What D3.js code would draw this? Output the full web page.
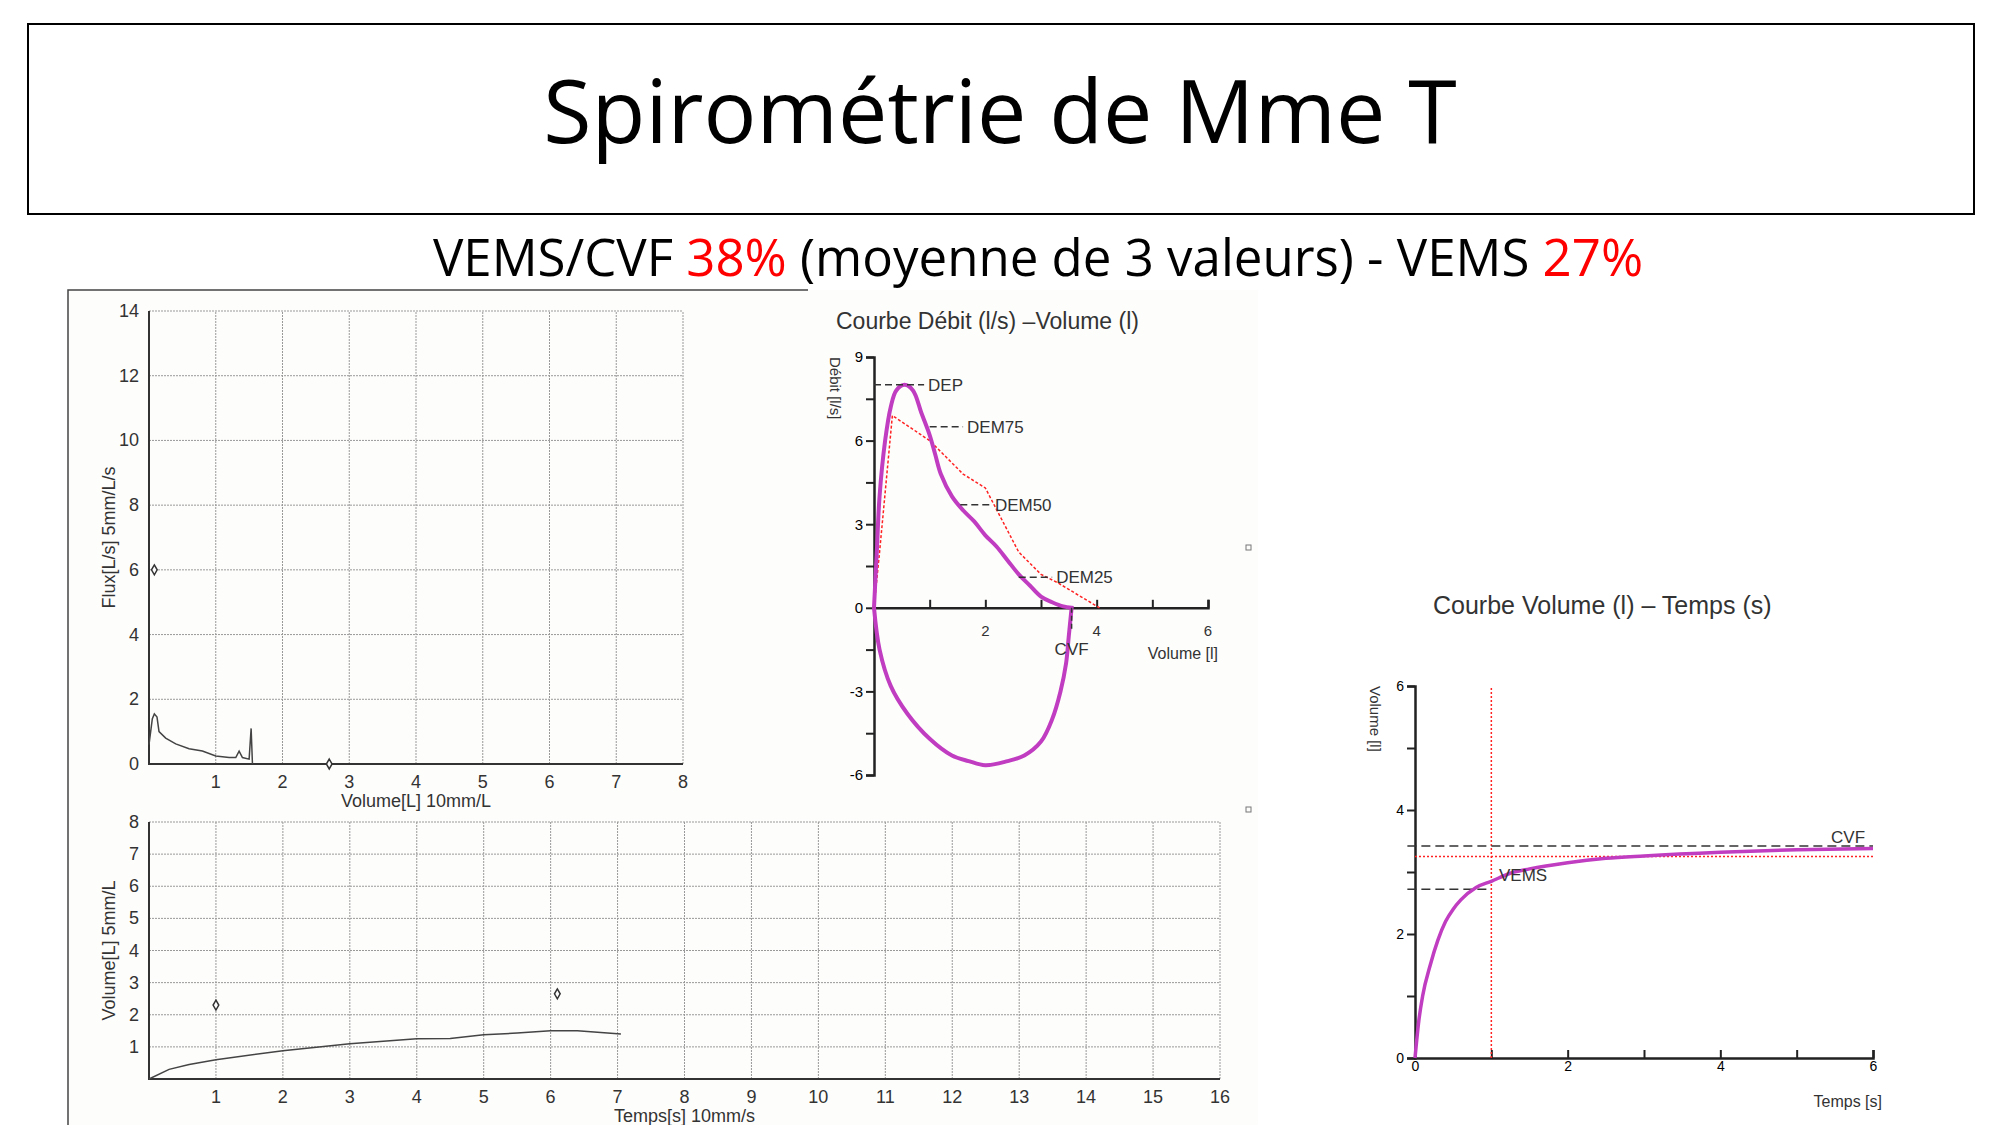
<!DOCTYPE html>
<html><head><meta charset="utf-8">
<script src="https://cdn.jsdelivr.net/npm/d3@7"></script>
<style>body{margin:0;background:#fff}svg{display:block}</style>
</head><body>
<script>
// scanned flow-volume trace (L, L/s)
const scanFlow = [[0,0.6],[0.05,1.4],[0.08,1.55],[0.12,1.45],[0.15,1.0],[0.25,0.8],[0.4,0.62],[0.6,0.47],[0.8,0.4],[1.0,0.25],[1.2,0.2],[1.3,0.2],[1.35,0.4],[1.4,0.2],[1.5,0.15],[1.53,1.1],[1.55,0]]
const scanFlowMarks = [[0.08,6],[2.7,0]]
// scanned volume-time trace (s, L)
const scanVol = [[0,0],[0.3,0.3],[0.6,0.45],[1,0.6],[2,0.88],[3,1.1],[4,1.25],[4.5,1.26],[5,1.38],[5.5,1.43],[6,1.5],[6.4,1.5],[7.05,1.4]]
const scanVolMarks = [[1,2.3],[6.1,2.65]]
// reference flow-volume loop (l, l/s)
const loopExp = [[0,0],[0.05,2],[0.1,4],[0.2,6],[0.3,7.2],[0.4,7.8],[0.55,8.0],[0.7,7.8],[0.85,7],[1,6.2],[1.1,5.5],[1.2,4.8],[1.4,4.0],[1.6,3.5],[1.8,3.1],[2.0,2.6],[2.2,2.2],[2.4,1.7],[2.6,1.2],[2.8,0.8],[3.0,0.4],[3.2,0.2],[3.4,0.05],[3.55,0]]
const loopInsp = [[3.55,0],[3.5,-1],[3.45,-2],[3.35,-3],[3.2,-4],[3.0,-4.8],[2.7,-5.3],[2.4,-5.5],[2.0,-5.65],[1.7,-5.5],[1.4,-5.3],[1.0,-4.7],[0.6,-3.8],[0.3,-2.8],[0.1,-1.5],[0,0]]
const loopPred = [[0,0],[0.1,2],[0.33,6.9],[1,6],[1.6,4.8],[2,4.3],[2.6,2],[3.0,1.2],[3.3,0.9],[4.05,0]]
const loopMarks = [{n:'DEP',x0:0,x1:0.9,y:8},{n:'DEM75',x0:1.0,x1:1.6,y:6.5},{n:'DEM50',x0:1.55,x1:2.1,y:3.7},{n:'DEM25',x0:2.6,x1:3.2,y:1.1}]
// reference volume-time curve (s, l)
const volTime = [[0,0],[0.05,0.6],[0.1,1.0],[0.2,1.5],[0.3,1.9],[0.4,2.2],[0.5,2.4],[0.6,2.55],[0.8,2.75],[1.0,2.85],[1.25,2.98],[1.5,3.05],[2,3.15],[2.5,3.22],[3,3.26],[4,3.32],[5,3.36],[6,3.38]]
const CVF = 3.42, VEMS = 2.72, predLine = 3.25

const svg = d3.select('body').append('svg').attr('width',2000).attr('height',1125)
const sans = 'Liberation Sans, Arial, sans-serif'

// title box
svg.append('rect').attr('x',28).attr('y',24).attr('width',1946).attr('height',190)
  .attr('fill','none').attr('stroke','#000').attr('stroke-width',2)
svg.append('text').attr('x',1000).attr('y',143).attr('text-anchor','middle')
  .attr('font-family','Open Sans, sans-serif').attr('font-size',88).text('Spirométrie de Mme T')
const sub = svg.append('text').attr('x',1038).attr('y',276).attr('text-anchor','middle')
  .attr('font-family','Open Sans, sans-serif').attr('font-size',51)
sub.append('tspan').text('VEMS/CVF ')
sub.append('tspan').attr('fill','#f00').text('38%')
sub.append('tspan').text(' (moyenne de 3 valeurs) - VEMS ')
sub.append('tspan').attr('fill','#f00').text('27%')

// scanned panel
svg.append('rect').attr('x',68).attr('y',290).attr('width',1190).attr('height',835).attr('fill','#fdfdfc')
svg.append('path').attr('d','M68,1125V290H808').attr('fill','none').attr('stroke','#444').attr('stroke-width',1.5)
svg.selectAll('rect.art').data([[1246,545],[1246,807]]).enter().append('rect')
  .attr('x',d=>d[0]).attr('y',d=>d[1]).attr('width',5).attr('height',5).attr('fill','none').attr('stroke','#777')

function gridPlot(xd,yd,xr,yr,xt,yt,xlab,ylab,line,marks){
  const x = d3.scaleLinear().domain(xd).range(xr), y = d3.scaleLinear().domain(yd).range(yr)
  const g = svg.append('g')
  g.selectAll('line.v').data(d3.range(xd[0],xd[1]+1)).enter().append('line')
    .attr('x1',x).attr('x2',x).attr('y1',yr[0]).attr('y2',yr[1]).attr('stroke','#999').attr('stroke-dasharray','2,1')
  g.selectAll('line.h').data(d3.range(yd[0],yd[1]+1,yt)).enter().append('line')
    .attr('y1',y).attr('y2',y).attr('x1',xr[0]).attr('x2',xr[1]).attr('stroke','#999').attr('stroke-dasharray','2,1')
  g.append('path').attr('d',`M${xr[0]},${yr[1]}V${yr[0]}H${xr[1]}`).attr('fill','none').attr('stroke','#333').attr('stroke-width',2)
  g.selectAll('text.x').data(d3.range(1,xd[1]+1)).enter().append('text')
    .attr('x',x).attr('y',yr[0]+24).attr('text-anchor','middle').attr('font-family',sans).attr('font-size',18).attr('fill','#333').text(d=>d)
  g.selectAll('text.y').data(d3.range(yd[0],yd[1]+1,yt).filter(d=>xt||d>0)).enter().append('text')
    .attr('x',xr[0]-10).attr('y',d=>y(d)+6).attr('text-anchor','end').attr('font-family',sans).attr('font-size',18).attr('fill','#333').text(d=>d)
  g.append('text').attr('x',(xr[0]+xr[1])/2).attr('y',yr[0]+43).attr('text-anchor','middle')
    .attr('font-family',sans).attr('font-size',18).attr('fill','#333').text(xlab)
  g.append('text').attr('transform',`translate(${xr[0]-34},${(yr[0]+yr[1])/2}) rotate(-90)`).attr('text-anchor','middle')
    .attr('font-family',sans).attr('font-size',18).attr('fill','#333').text(ylab)
  g.append('path').datum(line).attr('d',d3.line().x(d=>x(d[0])).y(d=>y(d[1]))).attr('fill','none').attr('stroke','#444').attr('stroke-width',1.5)
  g.selectAll('path.m').data(marks).enter().append('path')
    .attr('d',d3.symbol(d3.symbolDiamond,28)).attr('transform',d=>`translate(${x(d[0])},${y(d[1])})`)
    .attr('fill','#fff').attr('stroke','#333').attr('stroke-width',1.5)
}
gridPlot([0,8],[0,14],[149,683],[764,311],true,2,'Volume[L] 10mm/L','Flux[L/s] 5mm/L/s',scanFlow,scanFlowMarks)
gridPlot([0,16],[0,8],[149,1220],[1079,822],false,1,'Temps[s] 10mm/s','Volume[L] 5mm/L',scanVol,scanVolMarks)

// Débit - Volume
{
  const x = d3.scaleLinear().domain([0,6]).range([874,1208]), y = d3.scaleLinear().domain([-6,9]).range([775,357])
  const g = svg.append('g').attr('font-family',sans).attr('fill','#333')
  g.append('text').attr('x',836).attr('y',329).attr('font-size',23).text('Courbe Débit (l/s) –Volume (l)')
  g.append('g').attr('transform','translate(874,0)').call(d3.axisLeft(y).tickValues(d3.range(-6,9.1,1.5)).tickSize(8).tickFormat(d=>d%3===0?d:''))
  g.append('g').attr('transform',`translate(0,${y(0)})`).call(d3.axisTop(x).ticks(6).tickSize(8).tickFormat(()=>''))
  g.selectAll('text.xl').data([2,4,6]).enter().append('text').attr('x',x).attr('y',y(0)+28).attr('text-anchor','middle').attr('font-size',15).text(d=>d)
  g.selectAll('.domain').attr('stroke','#222').attr('stroke-width',2.5)
  g.selectAll('.tick line').attr('stroke','#222').attr('stroke-width',2)
  g.selectAll('.tick text').attr('font-size',15)
  g.append('text').attr('x',1218).attr('y',y(0)+51).attr('text-anchor','end').attr('font-size',16).text('Volume [l]')
  g.append('text').attr('transform',`translate(830,${y(9)}) rotate(90)`).attr('font-size',15).text('Débit [l/s]')
  const ln = d3.line().x(d=>x(d[0])).y(d=>y(d[1])).curve(d3.curveCatmullRom)
  g.append('path').datum(loopPred).attr('d',d3.line().x(d=>x(d[0])).y(d=>y(d[1]))).attr('fill','none').attr('stroke','#f22').attr('stroke-width',1.5).attr('stroke-dasharray','3,2')
  g.append('path').datum(loopExp.concat(loopInsp)).attr('d',ln).attr('fill','none').attr('stroke','#c03cc0').attr('stroke-width',4)
  g.selectAll('line.dm').data(loopMarks).enter().append('line').attr('x1',d=>x(d.x0)).attr('x2',d=>x(d.x1)).attr('y1',d=>y(d.y)).attr('y2',d=>y(d.y))
    .attr('stroke','#333').attr('stroke-width',1.5).attr('stroke-dasharray','7,4')
  g.selectAll('text.dm').data(loopMarks).enter().append('text').attr('x',d=>x(d.x1)+4).attr('y',d=>y(d.y)+6).attr('font-size',17).text(d=>d.n)
  g.append('line').attr('x1',x(3.55)).attr('x2',x(3.55)).attr('y1',y(0)).attr('y2',y(-0.8)).attr('stroke','#333').attr('stroke-width',1.5).attr('stroke-dasharray','5,3')
  g.append('text').attr('x',x(3.55)).attr('y',y(-1.7)).attr('text-anchor','middle').attr('font-size',17).text('CVF')
}

// Volume - Temps
{
  const x = d3.scaleLinear().domain([0,6]).range([1423-8,1881-8]), y = d3.scaleLinear().domain([0,6]).range([1058,686])
  const g = svg.append('g').attr('font-family',sans).attr('fill','#333')
  g.append('text').attr('x',1433).attr('y',614).attr('font-size',25).text('Courbe Volume (l) –  Temps (s)')
  g.append('g').attr('transform','translate(1415,0)').call(d3.axisLeft(y).ticks(6).tickSize(8).tickFormat(d=>d%2===0?d:''))
  g.append('g').attr('transform','translate(0,1058)').call(d3.axisBottom(x).ticks(6).tickSize(-8).tickFormat(d=>d%2===0?d:''))
  g.selectAll('.domain').attr('stroke','#222').attr('stroke-width',2.5)
  g.selectAll('.tick line').attr('stroke','#222').attr('stroke-width',2)
  g.selectAll('.tick text').attr('font-size',14)
  g.append('text').attr('x',1882).attr('y',1107).attr('text-anchor','end').attr('font-size',16).text('Temps [s]')
  g.append('text').attr('transform',`translate(1370,${y(6)}) rotate(90)`).attr('font-size',15).text('Volume [l]')
  g.append('line').attr('x1',x(1)).attr('x2',x(1)).attr('y1',y(0)).attr('y2',y(6)).attr('stroke','#f22').attr('stroke-width',1.5).attr('stroke-dasharray','2,2')
  g.append('line').attr('x1',x(0)).attr('x2',x(6)).attr('y1',y(predLine)).attr('y2',y(predLine)).attr('stroke','#f22').attr('stroke-width',1.5).attr('stroke-dasharray','2,2')
  g.append('line').attr('x1',x(-0.1)).attr('x2',x(6)).attr('y1',y(CVF)).attr('y2',y(CVF)).attr('stroke','#333').attr('stroke-width',1.5).attr('stroke-dasharray','9,5')
  g.append('line').attr('x1',x(-0.1)).attr('x2',x(1)).attr('y1',y(VEMS)).attr('y2',y(VEMS)).attr('stroke','#333').attr('stroke-width',1.5).attr('stroke-dasharray','9,5')
  g.append('path').datum(volTime).attr('d',d3.line().x(d=>x(d[0])).y(d=>y(d[1])).curve(d3.curveMonotoneX)).attr('fill','none').attr('stroke','#c03cc0').attr('stroke-width',3.5)
  g.append('text').attr('x',x(5.45)).attr('y',y(CVF)-3).attr('font-size',17).text('CVF')
  g.append('text').attr('x',x(1.1)).attr('y',y(VEMS)-8).attr('font-size',17).text('VEMS')
}
</script>
</body></html>
